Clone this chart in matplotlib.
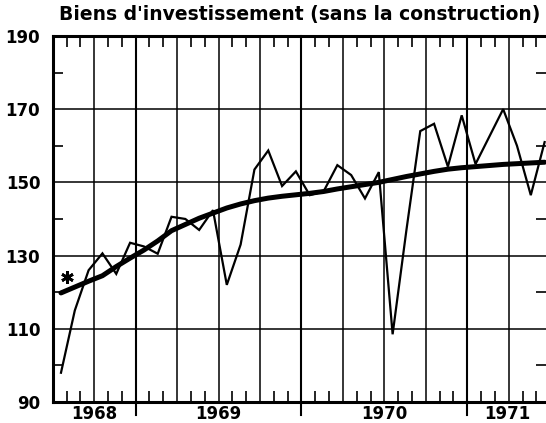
import numpy as np
import matplotlib.pyplot as plt
import matplotlib.transforms as mtransforms
from matplotlib.ticker import MultipleLocator

# mois comptes depuis janvier 1968 (points vers le milieu du mois)
mois = np.arange(6, 42) + 0.6

# indice mensuel (trait fin)
indice = [98, 115, 126, 130.6, 125, 133.5, 132.5, 130.5, 140.6, 140, 137, 142.4,
          122, 133, 153.5, 158.7, 149, 153, 146.5, 147.5, 154.7, 152, 145.6, 152.8,
          108.5, 137, 164, 166, 154.3, 168.3, 155, 162.5, 170, 160, 146.5, 161]

# tendance (trait epais)
tendance = [119.8, 121.4, 123, 124.5, 127, 129.3, 131.5, 134, 136.8, 138.5, 140.2, 141.6,
            143, 144.1, 145, 145.7, 146.2, 146.6, 147, 147.5, 148.2, 148.8, 149.4, 150,
            150.8, 151.6, 152.3, 153, 153.6, 154, 154.3, 154.6, 154.9, 155.1, 155.3, 155.5]

etoile_x, etoile_y = 7.0, 124.2

annees = ['1968', '1969', '1970', '1971']
annees_pos = [9, 18, 30, 38.9]
debuts_annee = [12, 24, 36]
yticks = [90, 110, 130, 150, 170, 190]

titre = "Biens d'investissement (sans la construction)"

fig = plt.figure(figsize=(5.46, 4.23), dpi=100)
ax = fig.add_axes([0.0965, 0.0496, 0.9035, 0.8655])

ax.plot(mois, indice, color='black', lw=1.6, solid_joinstyle='miter')
ax.plot(mois, tendance, color='black', lw=3.6, solid_capstyle='round')
ax.plot([etoile_x], [etoile_y], marker=(6, 2, 0), ms=9, mew=2, color='black')

ax.set_xlim(6, 41.7)
ax.set_ylim(90, 190)

ax.xaxis.set_major_locator(MultipleLocator(3))   # trimestres
ax.xaxis.set_minor_locator(MultipleLocator(1))   # mois
ax.set_yticks(yticks, [str(v) for v in yticks], fontsize=12, fontweight='bold')
ax.yaxis.set_minor_locator(MultipleLocator(10))

ax.grid(which='major', color='black', lw=1.1)
ax.tick_params(axis='x', which='major', length=0, labelbottom=False)
ax.tick_params(axis='x', which='minor', direction='in', length=8, width=1.2,
               top=True, bottom=True)
ax.tick_params(axis='y', which='major', length=0, pad=9)
ax.tick_params(axis='y', which='minor', direction='in', length=7.5, width=1.2,
               left=True, right=True)

for s in ['left', 'bottom', 'top']:
    ax.spines[s].set_linewidth(2.2)
ax.spines['right'].set_visible(False)

# separations entre annees, qui depassent sous l'axe
for d in debuts_annee:
    ax.axvline(d, ymin=-0.035, ymax=1, color='black', lw=1.5, clip_on=False)

trans = mtransforms.blended_transform_factory(ax.transData, ax.transAxes)
for a, p in zip(annees, annees_pos):
    ax.text(p, -0.008, a, transform=trans, ha='center', va='top',
            fontsize=12, fontweight='bold')

fig.text(0.548, 0.966, titre, ha='center', va='center', fontsize=13.5, fontweight='bold')

fig.savefig('out.png', dpi=100)
